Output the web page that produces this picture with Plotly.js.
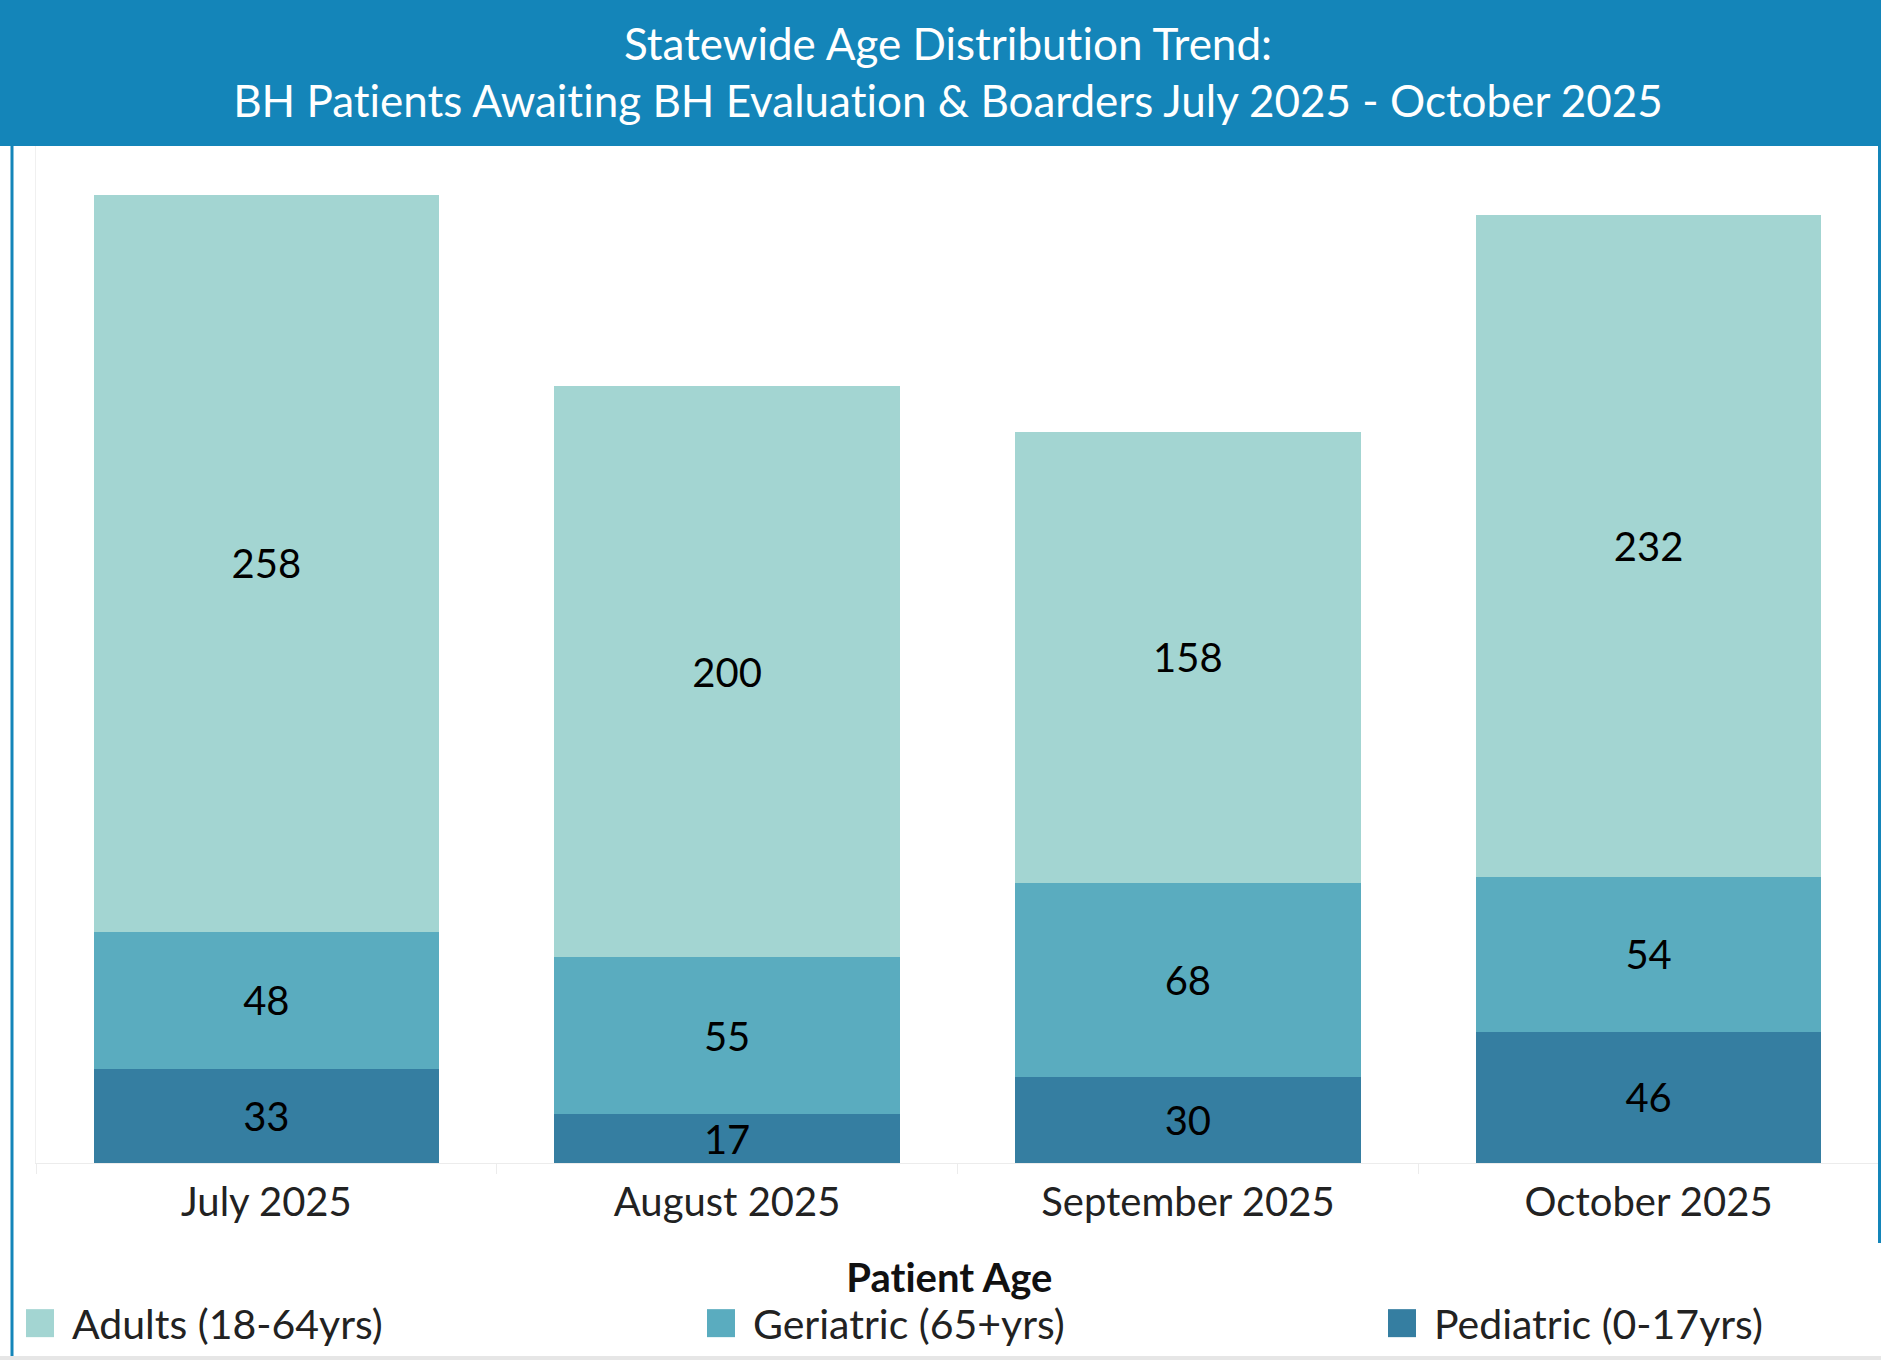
<!DOCTYPE html>
<html>
<head>
<meta charset="utf-8">
<script src="https://cdn.plot.ly/plotly-3.0.1.min.js"></script>
<style>
  html, body { margin: 0; padding: 0; background: #fff; overflow: hidden; }
  #chart { width: 1881px; height: 1360px; }
  /* plotly writes font-variant inline, so force ligatures off */
  #chart text, #chart tspan {
    font-variant-ligatures: none !important;
    font-feature-settings: "liga" 0, "clig" 0 !important;
  }
</style>
</head>
<body>
<div id="chart"></div>
<script>
// Statewide age distribution, BH patients awaiting evaluation & boarders
const months = ["July 2025", "August 2025", "September 2025", "October 2025"];
const adults = [258, 200, 158, 232];
const geriatric = [48, 55, 68, 54];
const pediatric = [33, 17, 30, 46];

const W = 1881, H = 1360;
const BAND = "#1485B9";
const FONT = "Lato, 'Open Sans', sans-serif";

// pixel -> paper helpers (margins are zero, so paper == whole page)
const px = (x) => x / W;
const py = (y) => (H - y) / H;

function barTrace(name, vals, color, legendW) {
  return {
    type: "bar",
    name: name,
    x: months,
    y: vals,
    text: vals.map(String),
    textposition: "inside",
    insidetextanchor: "middle",
    textangle: 0,
    constraintext: "none",
    textfont: { family: FONT, size: 40, color: "#000" },
    marker: { color: color, line: { width: 0 } },
    legendwidth: legendW,
    hoverinfo: "skip"
  };
}

// bottom-up stacking order
const traces = [
  barTrace("Pediatric (0-17yrs)", pediatric, "#357EA1", 370),
  barTrace("Geriatric (65+yrs)", geriatric, "#5AACBF", 612),
  barTrace("Adults (18-64yrs)", adults, "#A3D5D2", 612)
];

const layout = {
  width: W,
  height: H,
  margin: { l: 0, r: 0, t: 0, b: 0, autoexpand: false },
  paper_bgcolor: "#fff",
  plot_bgcolor: "#fff",
  font: { family: FONT, color: "#222" },
  barmode: "stack",
  bargap: 0.25,
  showlegend: true,
  title: {
    text: "Statewide Age Distribution Trend:<br>BH Patients Awaiting BH Evaluation & Boarders July 2025 - October 2025",
    x: px(948),
    xanchor: "center",
    y: py(60),
    yanchor: "middle",
    font: { family: FONT, size: 44, color: "#fff" }
  },
  xaxis: {
    domain: [px(36), px(1879)],
    type: "category",
    range: [-0.5, 3.5],
    tickson: "boundaries",
    ticks: "outside",
    ticklen: 10,
    tickcolor: "#ececec",
    ticklabelstandoff: 4,
    showline: true,
    linecolor: "#ececec",
    showgrid: false,
    zeroline: false,
    tickfont: { family: FONT, size: 40, color: "#222" },
    fixedrange: true
  },
  yaxis: {
    domain: [py(1163), py(146)],
    range: [0, 356],
    showticklabels: false,
    ticks: "",
    showgrid: false,
    zeroline: false,
    showline: true,
    linecolor: "#f0f0f0",
    fixedrange: true
  },
  legend: {
    orientation: "h",
    traceorder: "reversed",
    x: px(8),
    xanchor: "left",
    y: py(1290),
    yanchor: "top",
    itemwidth: 54,
    entrywidthmode: "pixels",
    font: { family: FONT, size: 41, color: "#222" },
    bgcolor: "rgba(0,0,0,0)"
  },
  annotations: [
    { text: "<b>Patient Age</b>", xref: "paper", yref: "paper",
      x: px(949), y: py(1277), xanchor: "center", yanchor: "middle",
      showarrow: false, font: { family: FONT, size: 40, color: "#111" } }
  ],
  shapes: [
    // title band
    { type: "rect", xref: "paper", yref: "paper", x0: 0, x1: 1, y0: py(146), y1: 1,
      fillcolor: BAND, line: { width: 0 }, layer: "below" },
    // left frame line
    { type: "line", xref: "paper", yref: "paper", x0: px(12), x1: px(12), y0: py(1356), y1: py(146),
      line: { color: BAND, width: 3 } },
    // right frame line
    { type: "line", xref: "paper", yref: "paper", x0: px(1879.5), x1: px(1879.5), y0: py(1243), y1: 1,
      line: { color: BAND, width: 3 } },
    // grey strip at the bottom
    { type: "rect", xref: "paper", yref: "paper", x0: 0, x1: 1, y0: 0, y1: py(1356),
      fillcolor: "#e6e6e6", line: { width: 0 }, layer: "below" }
  ]
};

Plotly.newPlot("chart", traces, layout, { displayModeBar: false, staticPlot: true }).then(() => {
  // bigger square swatches in the legend, like the original
  document.querySelectorAll("#chart .legendpoints path").forEach(p => {
    p.setAttribute("d", "M14,14H-14V-14H14Z");
  });
});
</script>
</body>
</html>
